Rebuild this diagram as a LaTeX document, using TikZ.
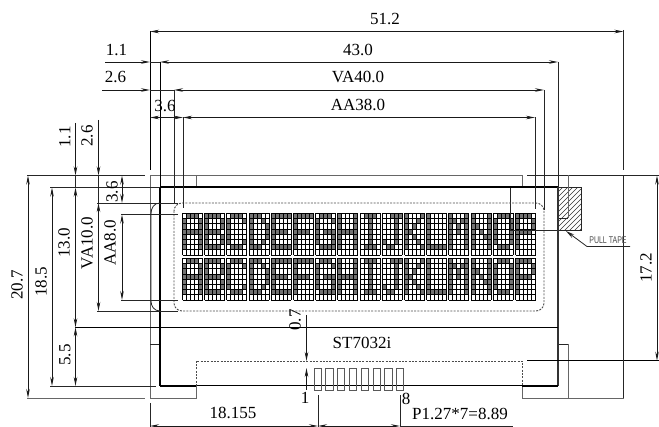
\documentclass[tikz,border=0pt]{standalone}
\usepackage{fontspec}
\setmainfont{Liberation Serif}
\newfontfamily\tapefont{Liberation Sans}
\usetikzlibrary{arrows.meta}
\tikzset{
  thinline/.style={line width=.8pt,draw=black!85},
  darkline/.style={line width=1pt,draw=black},
  boldline/.style={line width=2pt,draw=black},
  greyline/.style={line width=.9pt,draw=black!60},
  dimboth/.style={line width=.8pt,draw=black!90,{Stealth[length=9pt,width=3.5pt]}-{Stealth[length=9pt,width=3.5pt]}},
  dimend/.style={line width=.8pt,draw=black!90,-{Stealth[length=9pt,width=3.5pt]}},
  dashline/.style={line width=.9pt,draw=black!70,dash pattern=on 2pt off 1.3pt},
  dimtext/.style={inner sep=0pt,font=\fontsize{17}{18}\selectfont,text=black},
  dimtextv/.style={dimtext,rotate=90},
  pinbox/.style={line width=.9pt,draw=black!65},
}
\begin{document}
\begin{tikzpicture}[x=1pt,y=-1pt]
\useasboundingbox (0,0) rectangle (659,427);
% LCD characters
\foreach \rowy in {213.5,258.5}{
\foreach \glyph [count=\cn from 0] in {
 {14,17,17,31,17,17,17},{30,17,17,30,17,17,30},{14,17,16,16,16,17,14},{28,18,17,17,17,18,28},
 {31,16,16,30,16,16,31},{31,16,16,30,16,16,16},{14,17,16,23,17,17,15},{17,17,17,31,17,17,17},
 {14,4,4,4,4,4,14},{7,2,2,2,2,18,12},{17,18,20,24,20,18,17},{16,16,16,16,16,16,31},
 {17,27,21,21,17,17,17},{17,17,25,21,19,17,17},{14,17,17,17,17,17,14},{30,17,17,30,16,16,16}}{
  \pgfmathsetmacro\cx{182.5+22.2*\cn}
  \foreach \v [count=\ry from 0] in \glyph {
    \foreach \p [count=\rx from 0] in {16,8,4,2,1}{
      \pgfmathtruncatemacro\onbit{mod(int(\v/\p),2)}
      \ifnum\onbit=1
        \fill[black!55] ({\cx+4*\rx},{\rowy+5.2*\ry}) rectangle ++(4,5.2);
      \fi
    }
  }
  \foreach \i in {0,...,5}{\draw[line width=.95pt,black] ({\cx+4*\i},\rowy) -- ++(0,41.6);}
  \foreach \i in {0,...,8}{\draw[line width=.95pt,black] (\cx,{\rowy+5.2*\i}) -- ++(20,0);}
}}
% hatched pull tab
\begin{scope}
  \clip (558,187.5) rectangle (581,230.5);
  \foreach \h in {0,5,...,80}{\draw[line width=.7pt,black!80] (550,{190+\h}) -- ++(50,-50);}
\end{scope}
\draw[thinline] (558,187.5) rectangle (581,230.5);
\draw[thinline] (558,218.5) -- (568,218.5);
\draw[thinline] (510,187.5) -- (510,230.5) -- (558,230.5);
% outer frame
\draw[greyline] (150,175.5) -- (522,175.5);
\draw[thinline] (527,175.5) -- (659,175.5);
\draw[greyline] (150,175.5) -- (150,398) -- (196,398) -- (196,386);
\draw[greyline] (522,386) -- (522,398) -- (623.5,398);
\draw[thinline] (150,344) -- (160,344);
\draw[thinline] (558,344) -- (568,344);
\draw[greyline] (196,175.5) -- (196,187.5);
\draw[greyline] (522,175.5) -- (522,187.5);
\draw[greyline] (568,175.5) -- (568,218.5);
\draw[greyline] (568,344) -- (568,398);
% panel
\draw[boldline] (160,187.5) -- (558,187.5);
\draw[line width=1.3pt,black] (160,187.5) -- (160,386);
\draw[line width=1.3pt,black!80] (558,187.5) -- (558,386);
\draw[boldline] (160,386) -- (196,386);
\draw[boldline] (522,386) -- (558,386);
\draw[darkline] (196,386) -- (522,386);
% rounded end of the module
\draw[thinline] (160,203) .. controls (154,203) and (151,208) .. (151,214) -- (151,301) .. controls (151,306) and (154,311) .. (160,311);
% dashed viewing area and connector recess
\draw[dashline,rounded corners=8pt] (174,203) rectangle (544,311);
\draw[dashline] (196,386) -- (196,361) -- (522,361) -- (522,386);
% horizontal extension lines
\draw[thinline] (50,187.5) -- (160,187.5);
\draw[thinline] (97,203) -- (178,203);
\draw[thinline] (121,214.5) -- (178,214.5);
\draw[thinline] (121,300) -- (178,300);
\draw[thinline] (97,311) -- (178,311);
\draw[darkline] (75,327.3) -- (558,327.3);
\draw[thinline] (50,386) -- (156,386);
\draw[thinline] (27,175.5) -- (145,175.5);
\draw[greyline] (27,398) -- (145,398);
\draw[darkline] (527,360.7) -- (659,360.7);
% vertical extension lines
\draw[darkline] (150,31) -- (150,170);
\draw[darkline] (160,62) -- (160,187.5);
\draw[thinline] (174,90) -- (174,203);
\draw[thinline] (183,117.5) -- (183,208);
\draw[thinline] (535,117.5) -- (535,209);
\draw[thinline] (544,90) -- (544,210);
\draw[thinline] (558,62) -- (558,187.5);
\draw[thinline] (623.5,30) -- (623.5,170);
\draw[thinline] (623.5,175.5) -- (623.5,398);
\draw[thinline] (150,403) -- (150,427);
\draw[thinline] (318,395) -- (318,427);
\draw[thinline] (400,395) -- (400,427);
% horizontal dimensions
\draw[dimboth] (150,31.5) -- (623.5,31.5);
\draw[dimboth] (160,62) -- (558,62);
\draw[dimboth] (174,90) -- (544,90);
\draw[dimboth] (183,117.5) -- (535,117.5);
\draw[dimboth] (150,117.5) -- (183,117.5);
\draw[dimend] (105,62) -- (150,62);
\draw[thinline] (150,62) -- (160,62);
\draw[dimend] (102,90) -- (150,90);
\draw[thinline] (150,90) -- (174,90);
\draw[dimboth] (150,426) -- (318,426);
\draw[dimboth] (318,426) -- (400,426);
\draw[thinline] (400,426) -- (513,426);
% vertical dimensions
\draw[dimboth] (28,175.5) -- (28,398);
\draw[dimboth] (52,187.5) -- (52,386);
\draw[dimboth] (75.5,187.5) -- (75.5,327.3);
\draw[dimboth] (75.5,327.3) -- (75.5,386);
\draw[dimend] (75.5,123) -- (75.5,175.5);
\draw[dimend] (98.5,120) -- (98.5,175.5);
\draw[thinline] (75.5,175.5) -- (75.5,187.5);
\draw[thinline] (98.5,175.5) -- (98.5,203);
\draw[dimboth] (98.5,203) -- (98.5,311);
\draw[dimboth] (122,214.5) -- (122,300);
\draw[dimboth] (122,175.5) -- (122,203);
\draw[dimboth] (657,175.5) -- (657,360.7);
\draw[dimend] (306.5,315) -- (306.5,361);
\draw[dimend] (306.5,390) -- (306.5,368);
% pins
\foreach \i in {0,...,7}{\draw[pinbox] ({314+11.8*\i},368) rectangle ++(7.3,22);}
% pull tape leader
\draw[thinline,{Stealth[length=9pt,width=4pt]}-] (566,231) -- (587,246.5) -- (630,246.5);
\node[inner sep=0pt,text=black!70,font=\tapefont\fontsize{6.5}{7}\selectfont] (tape) at (608,240) {\scalebox{1.08}[1.5]{PULL TAPE}};
% labels
\node[dimtext] (d512) at (385,19) {51.2};
\node[dimtext] (d430) at (358,49.5) {43.0};
\node[dimtext] (dva40) at (358,76.5) {VA40.0};
\node[dimtext] (daa38) at (358,104.5) {AA38.0};
\node[dimtext] (d11a) at (116.5,50) {1.1};
\node[dimtext] (d26a) at (115.5,77) {2.6};
\node[dimtext] (d36a) at (165,105.5) {3.6};
\node[dimtextv] (d11b) at (65,137) {1.1};
\node[dimtextv] (d26b) at (87,136) {2.6};
\node[dimtextv] (d36b) at (112,192) {3.6};
\node[dimtextv] (d207) at (17,285) {20.7};
\node[dimtextv] (d185) at (41,282) {18.5};
\node[dimtextv] (d130) at (64,243) {13.0};
\node[dimtextv] (dva10) at (87,243) {VA10.0};
\node[dimtextv] (daa8) at (110,243) {AA8.0};
\node[dimtextv] (d55) at (65,355) {5.5};
\node[dimtextv] (d07) at (295,320) {0.7};
\node[dimtextv] (d172) at (646,268) {17.2};
\node[dimtext] (st) at (362,343) {ST7032i};
\node[dimtext] (p1) at (305,398) {1};
\node[dimtext] (p8) at (406,399) {8};
\node[dimtext] (d18) at (233,413) {18.155};
\node[dimtext] (pitch) at (460,414) {P1.27*7=8.89};
\end{tikzpicture}
\end{document}
